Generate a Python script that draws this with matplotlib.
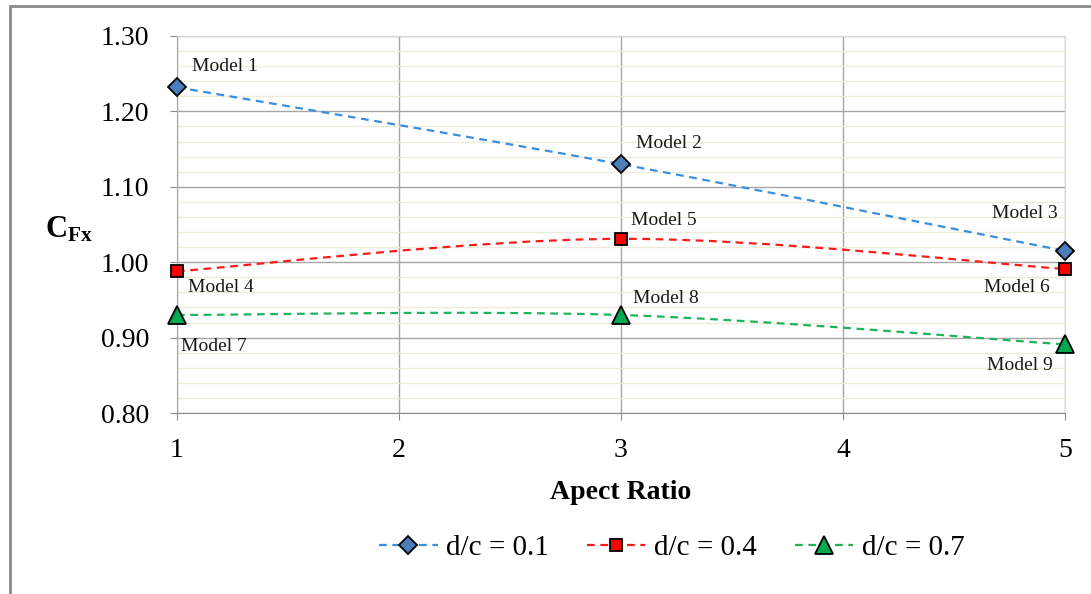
import numpy as np
import matplotlib
matplotlib.use('Agg')
import matplotlib.pyplot as plt
from matplotlib.path import Path
from matplotlib.patches import PathPatch, Rectangle
from matplotlib.lines import Line2D
from matplotlib.ticker import MultipleLocator

# data
aspect_ratio = [1, 3, 5]
cfx_01 = [1.232, 1.130, 1.015]
cfx_04 = [0.988, 1.031, 0.991]
cfx_07 = [0.930, 0.930, 0.891]
series_labels = ['d/c = 0.1', 'd/c = 0.4', 'd/c = 0.7']
model_names = [['Model 1', 'Model 2', 'Model 3'],
               ['Model 4', 'Model 5', 'Model 6'],
               ['Model 7', 'Model 8', 'Model 9']]

plt.rcParams['font.family'] = ['Liberation Serif', 'DejaVu Serif']
plt.rcParams['mathtext.fontset'] = 'custom'
plt.rcParams['mathtext.bf'] = 'Liberation Serif:bold'
plt.rcParams['mathtext.rm'] = 'Liberation Serif'


def smooth_path(xs, ys, t=1.0/6):
    # excel style smoothed line: cubic bezier through the points
    p = np.column_stack([xs, ys]).astype(float)
    n = len(p)
    verts = [p[0]]
    codes = [Path.MOVETO]
    for i in range(n - 1):
        p0 = p[max(i - 1, 0)]
        p1 = p[i]
        p2 = p[i + 1]
        p3 = p[min(i + 2, n - 1)]
        verts += [p1 + (p2 - p0) * t, p2 - (p3 - p1) * t, p2]
        codes += [Path.CURVE4] * 3
    return Path(verts, codes)


def main():
    fig = plt.figure(figsize=(10.91, 5.94), dpi=100)
    ax = fig.add_axes([0.1622, 0.3047, 0.8140, 0.6347])

    # outer chart border (left and top visible)
    fig.patches.append(Rectangle((10.0 / 1091, -0.05), 1.2, (594 - 6) / 594.0 + 0.05,
                                 transform=fig.transFigure, fill=False,
                                 edgecolor='#8a8a8a', lw=2.0))

    styles = [
        dict(line='#3a8ede', marker='D', face='#4a7ebb', ms=9.5),
        dict(line='#ff1a1a', marker='s', face='#ff0000', ms=8.5),
        dict(line='#1fb45a', marker='^', face='#00a84f', ms=12.5),
    ]
    data = [cfx_01, cfx_04, cfx_07]

    handles = []
    for ys, st, lab in zip(data, styles, series_labels):
        patch = PathPatch(smooth_path(aspect_ratio, ys), facecolor='none',
                          edgecolor=st['line'], lw=1.6, linestyle=(0, (3.5, 2.5)),
                          zorder=3)
        ax.add_patch(patch)
        ax.plot(aspect_ratio, ys, linestyle='none', marker=st['marker'],
                markersize=st['ms'], markerfacecolor=st['face'],
                markeredgecolor='black', markeredgewidth=1.3, zorder=4,
                clip_on=False)
        handles.append(Line2D([], [], color=st['line'], lw=1.6,
                              linestyle=(0, (3.5, 2.5)), marker=st['marker'],
                              markersize=st['ms'], markerfacecolor=st['face'],
                              markeredgecolor='black', markeredgewidth=1.3,
                              label=lab))

    # model annotations: (offset in points, alignment)
    offsets = [
        [((11, 15), 'left'), ((11, 15), 'left'), ((-5, 27), 'right')],
        [((8, -12), 'left'), ((7, 13), 'left'), ((-11, -13), 'right')],
        [((3, -23), 'left'), ((9, 12), 'left'), ((-9, -15), 'right')],
    ]
    for ys, names, offs in zip(data, model_names, offsets):
        for x, y, name, (off, ha) in zip(aspect_ratio, ys, names, offs):
            ax.annotate(name, (x, y), xytext=off, textcoords='offset points',
                        ha=ha, va='center', fontsize=14, color='#1a1a1a')

    ax.set_xlim(1, 5)
    ax.set_ylim(0.80, 1.30)
    ax.xaxis.set_major_locator(MultipleLocator(1))
    ax.yaxis.set_major_locator(MultipleLocator(0.1))
    ax.yaxis.set_minor_locator(MultipleLocator(0.02))
    ax.set_yticklabels(['%.2f' % v for v in ax.get_yticks()])
    ax.set_xticklabels(['%d' % v for v in ax.get_xticks()])

    ax.grid(which='major', color='#a6a6a6', lw=1.0)
    ax.grid(which='minor', axis='y', color='#ecebdc', lw=1.0)
    ax.set_axisbelow(True)
    ax.tick_params(which='major', length=5, color='#8c8c8c', labelsize=20)
    ax.tick_params(which='minor', length=0)
    ax.tick_params(axis='x', pad=13)
    ax.tick_params(axis='y', pad=15)
    for s in ['top', 'right']:
        ax.spines[s].set_color('#d9d9d9')
    ax.spines['left'].set_color('#a6a6a6')
    ax.spines['bottom'].set_color('#8c8c8c')

    ax.set_xlabel('Apect Ratio', fontsize=20, fontweight='bold', labelpad=12)
    ax.set_ylabel(r'$\mathbf{C_{Fx}}$', fontsize=22, rotation=0)
    ax.yaxis.set_label_coords(-0.122, 0.447)

    fig.legend(handles=handles, loc='center', bbox_to_anchor=(0.616, 0.077),
               ncol=3, frameon=False, fontsize=21, handlelength=2.0,
               columnspacing=1.3, handletextpad=0.3)

    fig.savefig('out.png', dpi=100)


if __name__ == "__main__":
    main()
